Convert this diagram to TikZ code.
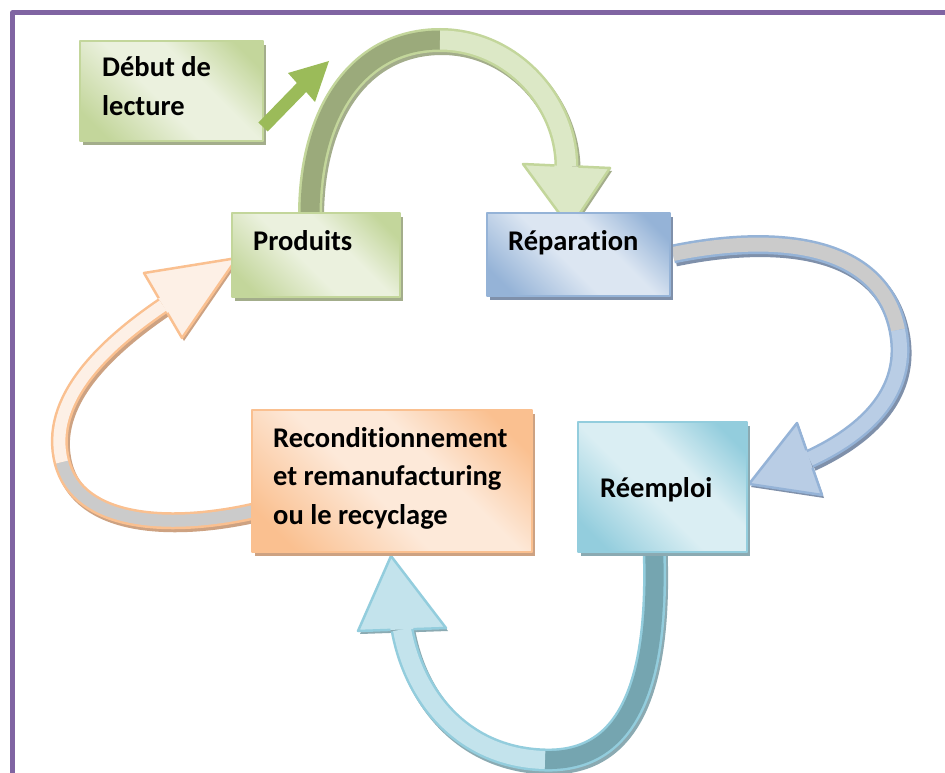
\documentclass[tikz,border=0pt]{standalone}
\usepackage{fontspec}
\setmainfont{Carlito}[Ligatures=NoCommon]
\usetikzlibrary{calc,shadows}

\definecolor{frameP}{HTML}{8064A2}
\definecolor{gDk}{HTML}{C3D69B}
\definecolor{gLt}{HTML}{EBF1DE}
\definecolor{gSh}{HTML}{A3AD8B}
\definecolor{gBack}{HTML}{9BAA7B}
\definecolor{gFace}{HTML}{DCE8C6}
\definecolor{gSmall}{HTML}{9BBB59}
\definecolor{bDk}{HTML}{95B3D7}
\definecolor{bLt}{HTML}{DCE6F2}
\definecolor{bSh}{HTML}{7F90AA}
\definecolor{bFace}{HTML}{B9CDE5}
\definecolor{grBack}{HTML}{CBCBCB}
\definecolor{oDk}{HTML}{FAC090}
\definecolor{oLt}{HTML}{FDE9D9}
\definecolor{oSh}{HTML}{CDA282}
\definecolor{oFace}{HTML}{FDF0E6}
\definecolor{tDk}{HTML}{93CDDD}
\definecolor{tLt}{HTML}{DAEEF3}
\definecolor{tSh}{HTML}{8BAAB2}
\definecolor{tFace}{HTML}{C3E3EC}
\definecolor{tBack}{HTML}{75A5B0}

\pgfdeclarehorizontalshading{gshade}{100bp}{color(0bp)=(gDk); color(22bp)=(gDk); color(45bp)=(gLt); color(60bp)=(gLt); color(78bp)=(gDk); color(100bp)=(gDk)}
\pgfdeclarehorizontalshading{bshade}{100bp}{color(0bp)=(bDk); color(22bp)=(bDk); color(45bp)=(bLt); color(60bp)=(bLt); color(78bp)=(bDk); color(100bp)=(bDk)}
\pgfdeclarehorizontalshading{oshade}{100bp}{color(0bp)=(oDk); color(22bp)=(oDk); color(45bp)=(oLt); color(60bp)=(oLt); color(78bp)=(oDk); color(100bp)=(oDk)}
\pgfdeclarehorizontalshading{tshade}{100bp}{color(0bp)=(tDk); color(22bp)=(tDk); color(45bp)=(tLt); color(60bp)=(tLt); color(78bp)=(tDk); color(100bp)=(tDk)}

\tikzset{
  boxbase/.style={shade, line width=2pt, shading angle=45, inner sep=0pt, rectangle},
  gbox/.style={boxbase, draw=gDk, shading=gshade, drop shadow={shadow xshift=3pt, shadow yshift=-4pt, fill=gSh, opacity=1}},
  bbox/.style={boxbase, draw=bDk, shading=bshade, drop shadow={shadow xshift=3pt, shadow yshift=-4pt, fill=bSh, opacity=1}},
  obox/.style={boxbase, draw=oDk, shading=oshade, drop shadow={shadow xshift=3pt, shadow yshift=-4pt, fill=oSh, opacity=1}},
  tbox/.style={boxbase, draw=tDk, shading=tshade, drop shadow={shadow xshift=3pt, shadow yshift=-4pt, fill=tSh, opacity=1}},
  lbl/.style={anchor=base west, align=left, inner sep=0pt, font=\fontsize{28.5}{38.5}\selectfont\bfseries},
  shadowshift/.style={transform canvas={shift={(2pt,-3pt)}}},
}

\begin{document}
\begin{tikzpicture}[x=1pt, y=-1pt, line join=round]
\useasboundingbox (0,0) rectangle (945,773);
\clip (0,0) rectangle (945,773);
\fill[white] (0,0) rectangle (945,773);

% frame
\draw[frameP, line width=5pt] (12.5,800) -- (12.5,12.5) -- (960,12.5);

% ---------- green ribbon (Produits -> Reparation)
\coordinate (gA) at (310,215);
\coordinate (gB) at (440,40);
\coordinate (gC1) at (523,164);
\coordinate (gC2) at (610,168);
\coordinate (gT) at (570,228);
\coordinate (gM) at ($(gC1)!0.5!(gC2)$);
\draw[gSh, line width=24pt, shadowshift] (gA) .. controls (310,110) and (360,40) .. (gB) .. controls (510,40) and (566,100) .. (gM);
\fill[gSh, shadowshift] (gC1) -- (gT) -- (gC2) -- cycle;
\draw[gDk, line width=24pt] (gA) .. controls (310,110) and (360,40) .. (gB) .. controls (510,40) and (566,100) .. (gM);
\draw[gBack, line width=19pt] (gA) .. controls (310,110) and (360,40) .. (gB);
\draw[gFace, line width=19pt] (gB) .. controls (510,40) and (566,100) .. (gM);
\fill[gFace] (gC1) -- (gT) -- (gC2) -- cycle;
\draw[gDk, line width=2.5pt] ($(gM)!12pt!(gC1)$) -- (gC1) -- (gT) -- (gC2) -- ($(gM)!12pt!(gC2)$);

% ---------- blue ribbon (Reparation -> Reemploi)
\coordinate (bA) at (673,254);
\coordinate (bB) at (898,330);
\coordinate (bC1) at (797,423);
\coordinate (bC2) at (822,495);
\coordinate (bT) at (749,484);
\coordinate (bM) at ($(bC1)!0.5!(bC2)$);
\draw[bSh, line width=19pt, shadowshift] (bA) .. controls (770,234) and (880,240) .. (bB) .. controls (910,390) and (868,432) .. (bM);
\fill[bSh, shadowshift] (bC1) -- (bT) -- (bC2) -- cycle;
\draw[bDk, line width=19pt] (bA) .. controls (770,234) and (880,240) .. (bB) .. controls (910,390) and (868,432) .. (bM);
\draw[grBack, line width=14pt] (bA) .. controls (770,234) and (880,240) .. (bB);
\draw[bFace, line width=14pt] (bB) .. controls (910,390) and (868,432) .. (bM);
\fill[bFace] (bC1) -- (bT) -- (bC2) -- cycle;
\draw[bDk, line width=2.5pt] ($(bM)!9.5pt!(bC1)$) -- (bC1) -- (bT) -- (bC2) -- ($(bM)!9.5pt!(bC2)$);

% ---------- teal ribbon (Reemploi -> Reconditionnement)
\coordinate (tA) at (654,546);
\coordinate (tB) at (545,760);
\coordinate (tC1) at (446,628);
\coordinate (tC2) at (358,631);
\coordinate (tT) at (391,556);
\coordinate (tM) at ($(tC1)!0.5!(tC2)$);
\draw[tSh, line width=23pt, shadowshift] (tA) .. controls (660,700) and (620,762) .. (tB) .. controls (465,758) and (415,700) .. (tM);
\fill[tSh, shadowshift] (tC1) -- (tT) -- (tC2) -- cycle;
\draw[tDk, line width=23pt] (tA) .. controls (660,700) and (620,762) .. (tB) .. controls (465,758) and (415,700) .. (tM);
\draw[tBack, line width=18pt] (tA) .. controls (660,700) and (620,762) .. (tB);
\draw[tFace, line width=18pt] (tB) .. controls (465,758) and (415,700) .. (tM);
\fill[tFace] (tC1) -- (tT) -- (tC2) -- cycle;
\draw[tDk, line width=2.5pt] ($(tM)!11.5pt!(tC1)$) -- (tC1) -- (tT) -- (tC2) -- ($(tM)!11.5pt!(tC2)$);

% ---------- orange ribbon (Reconditionnement -> Produits)
\coordinate (oA) at (254,511);
\coordinate (oB) at (62,462);
\coordinate (oC1) at (144,273);
\coordinate (oC2) at (182,338);
\coordinate (oT) at (237,258);
\coordinate (oM) at ($(oC1)!0.5!(oC2)$);
\draw[oSh, line width=17pt, shadowshift] (oA) .. controls (170,530) and (78,525) .. (oB) .. controls (46,400) and (105,345) .. (oM);
\fill[oSh, shadowshift] (oC1) -- (oT) -- (oC2) -- cycle;
\draw[oDk, line width=17pt] (oA) .. controls (170,530) and (78,525) .. (oB) .. controls (46,400) and (105,345) .. (oM);
\draw[grBack, line width=12pt] (oA) .. controls (170,530) and (78,525) .. (oB);
\draw[oFace, line width=12pt] (oB) .. controls (46,400) and (105,345) .. (oM);
\fill[oFace] (oC1) -- (oT) -- (oC2) -- cycle;
\draw[oDk, line width=2.5pt] ($(oM)!8.5pt!(oC1)$) -- (oC1) -- (oT) -- (oC2) -- ($(oM)!8.5pt!(oC2)$);

% ---------- boxes
\node[gbox, minimum width=183pt, minimum height=100pt] (debut) at (171.5,91) {};
\node[gbox, minimum width=168pt, minimum height=84pt] (prod) at (316,255) {};
\node[bbox, minimum width=183pt, minimum height=83pt] (rep) at (578.5,254.5) {};
\node[obox, minimum width=280pt, minimum height=142pt] (recon) at (392,481) {};
\node[tbox, minimum width=169pt, minimum height=130pt] (reemp) at (662.5,487) {};

% ---------- labels (base = baseline of last line)
\node[lbl] (tdebut) at (102,115.5) {Début de\\lecture};
\node[lbl] (tprod) at (253,250) {Produits};
\node[lbl] (trep) at (508,250) {Réparation};
\node[lbl] (trecon) at (273,524) {Reconditionnement\\et remanufacturing\\ou le recyclage};
\node[lbl] (treemp) at (600,497) {Réemploi};

% ---------- small start arrow
\fill[gSmall] (258.4,122.5) -- (296.9,83) -- (288,73) -- (329,61) -- (315,102) -- (306.2,92) -- (267.7,131.5) -- cycle;
\end{tikzpicture}
\end{document}
